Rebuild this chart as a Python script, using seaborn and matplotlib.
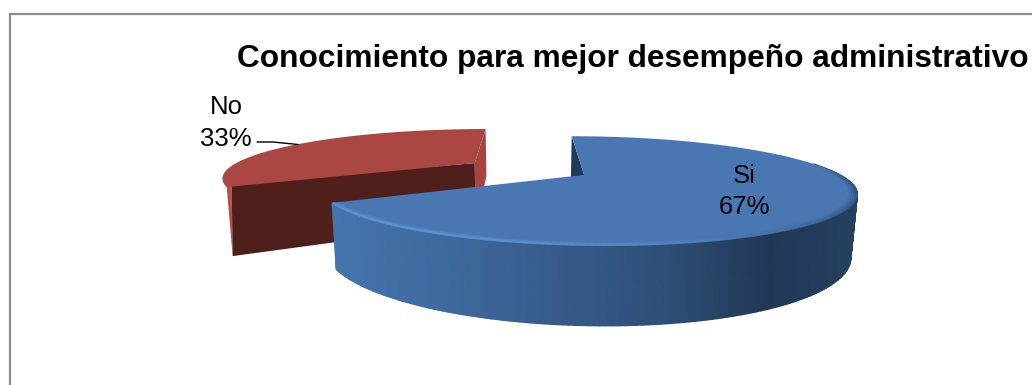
import numpy as np
import matplotlib
matplotlib.use("Agg")
import matplotlib.pyplot as plt
from matplotlib.colors import to_rgb
from matplotlib.patches import Polygon
from matplotlib.collections import LineCollection
import seaborn as sns

categories = ["Si", "No"]
shares = [67, 33]
title = "Conocimiento para mejor desempeño administrativo"

sns.set_theme(style="white")
plt.rcParams["font.family"] = ["Liberation Sans", "DejaVu Sans"]

fig = plt.figure(figsize=(10.32, 3.85), dpi=100)
ax = fig.add_axes([0, 0, 1, 1])

# Camera: horizon point, disc scale, foreshortening and slice separation
VX, VY = 529.0, 3.0
SCALE_X, SCALE_Y, DEPTH = 247.0, 165.8, 0.28
EXPLODE = 0.25
BASE_X = 0.98


def project(u, v, base=None, nudge=0.0):
    w = 1 + DEPTH * np.asarray(v)
    x = VX + SCALE_X * np.asarray(u) / w
    y = VY + SCALE_Y / w
    if base is not None:
        x = VX + (x - VX) * BASE_X
        y = VY + (y - VY) * base
    return np.column_stack([x + nudge, y])


def slice_geometry(start, sweep):
    mid = np.radians(start + sweep / 2)
    ou, ov = EXPLODE * np.sin(mid), EXPLODE * np.cos(mid)
    t = np.radians(np.linspace(start, start + sweep, 241))
    return ou, ov, t, ou + np.sin(t), ov + np.cos(t)


sweeps = 360 * np.array(shares) / sum(shares)
starts = np.concatenate([[0], np.cumsum(sweeps)[:-1]])

# The "No" slice sits behind, so it is painted first
no_base, no_nudge = 1.375, -3.0
ou, ov, t, au, av = slice_geometry(starts[1], sweeps[1])
top = project(au, av, nudge=no_nudge)
low = project(au, av, base=no_base, nudge=no_nudge)
apex = project([ou], [ov], nudge=no_nudge)[0]
apex_low = project([ou], [ov], base=no_base, nudge=no_nudge)[0]
ax.add_patch(Polygon([top[-1], apex, apex_low, low[-1]], fc="#a8443f", ec="none"))
iu, iv = [ou + 0.975 * np.sin(t[6])], [ov + 0.975 * np.cos(t[6])]
inset_top = project(iu, iv, nudge=no_nudge)[0]
ax.add_patch(Polygon([top[0], inset_top, low[0]], fc="#b64f4a", ec="none"))
ax.add_patch(Polygon([inset_top, apex, apex_low, low[0]], fc="#4f1f1c", ec="none"))
ax.add_patch(Polygon(np.vstack([[apex], top]), fc="#ab4742", ec="none"))

# The "Si" slice: inner wall, shaded outer wall, then the top face
si_base = 1.333
ou, ov, t, au, av = slice_geometry(starts[0], sweeps[0])
top = project(au, av)
low = project(au, av, base=si_base)
apex = project([ou], [ov])[0]
apex_low = project([ou], [ov], base=si_base)[0]
ax.add_patch(Polygon([top[0], apex, apex_low, low[0]], fc="#1f3a5c", ec="none"))

wall_cmap = sns.blend_palette(
    ["#4375ae", "#3f6ca2", "#3a6293", "#345784", "#2d4c72", "#213757", "#26415f"], as_cmap=True)
front = np.cos(t) < 0.25
mesh_x = np.vstack([top[front, 0], low[front, 0]])
mesh_y = np.vstack([top[front, 1], low[front, 1]])
ax.pcolormesh(mesh_x, mesh_y, mesh_x, cmap=wall_cmap, vmin=top[:, 0].min(), vmax=top[:, 0].max(),
              shading="gouraud", zorder=1.5)
ax.add_patch(Polygon(np.vstack([[apex], top]), fc="#4877b1", ec="none", zorder=2))

# Soft bevel following the rim: light on the front, dark towards the right
rim_shades = sns.blend_palette(["#5f95d6", "#5e92d2", "#5688c4", "#3f6a9c", "#294767", "#2b4a6e"], 240)
for r, lw, alpha in [(0.997, 1.6, 0.9), (0.99, 1.6, 0.5), (0.983, 1.6, 0.28), (0.976, 1.6, 0.14)]:
    pts = project(ou + r * np.sin(t), ov + r * np.cos(t))
    deg = np.degrees(t[:-1])
    keep = deg > 82
    seg = np.stack([pts[:-1], pts[1:]], axis=1)[keep]
    deg = deg[keep]
    idx = np.clip((241.2 - deg) / (241.2 - 72) * 239, 0, 239).astype(int)
    fade = np.clip((deg - 82) / 26, 0, 1) * alpha
    ax.add_collection(LineCollection(
        seg, colors=[(*to_rgb(rim_shades[i]), a) for i, a in zip(idx, fade)],
        linewidths=lw, capstyle="butt", zorder=2.5))

# Chart frame, running off the right and lower edges
ax.plot([9.5, 9.5, 1032], [385, 14, 14], color="#8c8c8c", lw=1.6, solid_joinstyle="miter", zorder=3)

ax.text(237, 67, title, fontsize=22.8, fontweight="bold", color="black", va="baseline", ha="left")

text_style = dict(fontsize=18.5, color="black", ha="center", va="baseline")
ax.text(744, 183, categories[0], **text_style)
ax.text(744, 214, f"{shares[0]}%", **text_style)
ax.text(226, 114, categories[1], **text_style)
ax.text(226, 146, f"{shares[1]}%", **text_style)
ax.plot([257, 273, 298], [142, 142, 144.5], color="black", lw=1.0, zorder=3)

ax.set_xlim(0, 1032)
ax.set_ylim(385, 0)
ax.axis("off")

fig.savefig("out.png", dpi=100)
